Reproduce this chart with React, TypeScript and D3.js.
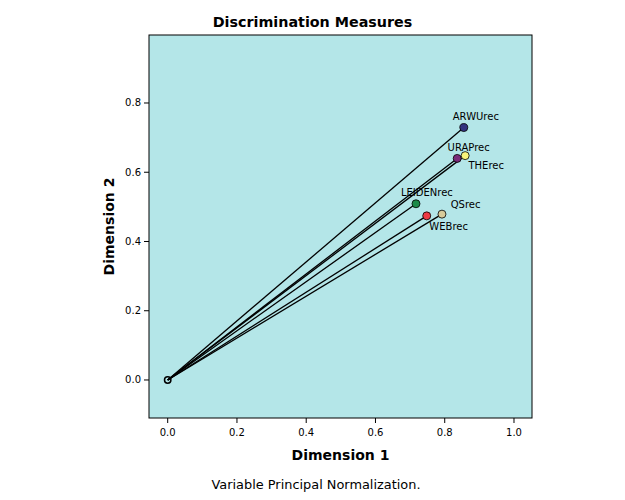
import React from "react";
import * as d3 from "d3";

const variables = ["ARWUrec", "URAPrec", "THErec", "LEIDENrec", "QSrec", "WEBrec"];
const dim1 = [0.855, 0.836, 0.859, 0.717, 0.792, 0.748];
const dim2 = [0.729, 0.640, 0.648, 0.509, 0.479, 0.474];
const xTicks = [0, 0.2, 0.4, 0.6, 0.8, 1.0];
const yTicks = [0, 0.2, 0.4, 0.6, 0.8];

const colors = ["#33337f", "#7a2a7a", "#f8f47a", "#1b8a48", "#d8cb9a", "#ee3a43"];
const labelOffsets: [number, number][] = [
  [-11, -7.7],
  [-9.6, -7.6],
  [3.3, 13.6],
  [-15, -8],
  [8.7, -6.3],
  [2.6, 14],
];

export default function App() {
  const W = 625, H = 500;
  const left = 149, right = 532, top = 35, bottom = 418;
  const x = d3.scaleLinear().domain([-0.054, 1.052]).range([left, right]);
  const y = d3.scaleLinear().domain([-0.1098, 0.9964]).range([bottom, top]);
  const font = "'DejaVu Sans', sans-serif";
  const fmt = d3.format(".1f");
  return (
    <svg width={W} height={H} style={{ position: "absolute", left: 0, top: 0 }} fontFamily={font}>
      <rect x={0} y={0} width={W} height={H} fill="#ffffff" />
      <text x={312.5} y={27} textAnchor="middle" fontSize={14.3} fontWeight="bold">Discrimination Measures</text>
      <rect x={left} y={top} width={right - left} height={bottom - top} fill="#b4e6e8" stroke="#000" strokeWidth={1} />
      {xTicks.map((t) => (
        <g key={"x" + t}>
          <line x1={x(t)} x2={x(t)} y1={bottom} y2={bottom + 5} stroke="#000" />
          <text x={x(t)} y={436} textAnchor="middle" fontSize={10}>{fmt(t)}</text>
        </g>
      ))}
      {yTicks.map((t) => (
        <g key={"y" + t}>
          <line x1={left - 5} x2={left} y1={y(t)} y2={y(t)} stroke="#000" />
          <text x={141} y={y(t)} dy="0.35em" textAnchor="end" fontSize={10}>{fmt(t)}</text>
        </g>
      ))}
      <text x={(left + right) / 2} y={460} textAnchor="middle" fontSize={14} fontWeight="bold">Dimension 1</text>
      <text transform={`translate(114,${(top + bottom) / 2}) rotate(-90)`} textAnchor="middle" fontSize={14} fontWeight="bold">Dimension 2</text>
      {variables.map((v, i) => (
        <line key={"l" + v} x1={x(0)} y1={y(0)} x2={x(dim1[i])} y2={y(dim2[i])} stroke="#000" strokeWidth={1.3} />
      ))}
      <circle cx={x(0)} cy={y(0)} r={3.2} fill="none" stroke="#000" strokeWidth={1.5} />
      {variables.map((v, i) => (
        <circle key={"c" + v} cx={x(dim1[i])} cy={y(dim2[i])} r={4} fill={colors[i]} stroke="#000" strokeWidth={0.8} />
      ))}
      {variables.map((v, i) => (
        <text key={"t" + v} x={x(dim1[i]) + labelOffsets[i][0]} y={y(dim2[i]) + labelOffsets[i][1]} fontSize={10}>{v}</text>
      ))}
      <text x={316} y={489} textAnchor="middle" fontSize={12.9}>Variable Principal Normalization.</text>
    </svg>
  );
}
